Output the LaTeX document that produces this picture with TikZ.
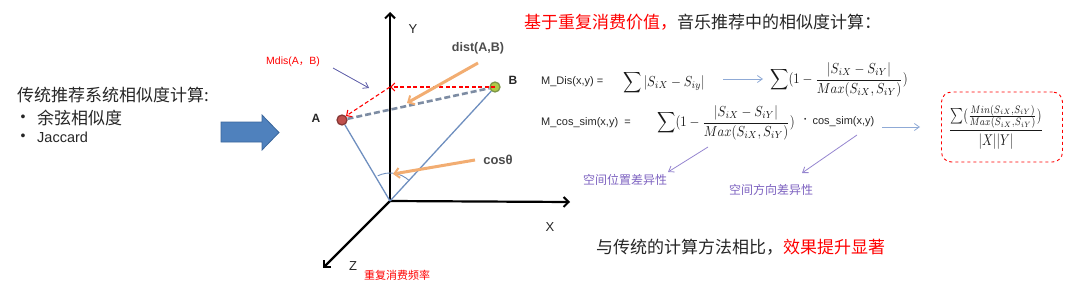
\documentclass[tikz,border=0pt]{standalone}
\usepackage{amsmath}
\usepackage{fontspec}
\setmainfont{Liberation Sans}
\newfontfamily\cjk{Noto Sans CJK SC}
\usetikzlibrary{arrows.meta}
\definecolor{txt}{HTML}{262626}
\definecolor{vecblue}{HTML}{6F8FBF}
\definecolor{abgray}{HTML}{7D8CA3}
\definecolor{orangearr}{HTML}{F2AD72}
\definecolor{purp}{HTML}{7D62C0}
\definecolor{purparr}{HTML}{9585CF}
\definecolor{lblue}{HTML}{8FAAD6}
\definecolor{blockblue}{HTML}{4F81BD}
\definecolor{blockedge}{HTML}{3B679C}
\definecolor{redpt}{HTML}{C0504D}
\definecolor{greenpt}{HTML}{9BBB59}
\newcommand{\fs}[1]{\fontsize{#1}{#1}\selectfont}
\newcommand{\tallmath}[1]{\scalebox{1.27}[1.45]{#1}}
\begin{document}
\begin{tikzpicture}[x=1pt,y=-1pt,
  lbl/.style={inner sep=0pt, text=txt},
  mathlbl/.style={inner sep=0pt, text=black!90},
  axis/.style={line width=2.2pt, black, -{Straight Barb[length=5pt,width=10pt,line width=2pt]}},
  vec/.style={line width=1.3pt, vecblue},
  abline/.style={line width=2.6pt, abgray, dash pattern=on 6pt off 3pt},
  reddash/.style={line width=1.1pt, red, dash pattern=on 4pt off 2.5pt, -{Straight Barb[length=4pt,width=8pt]}},
  orarrow/.style={line width=3pt, orangearr, -{Straight Barb[length=5pt,width=10pt,line width=2pt]}},
  thinarrow/.style={line width=0.8pt, -{Straight Barb[length=5pt,width=7pt]}},
  pt/.style={circle, inner sep=0pt, minimum size=10pt, line width=1.3pt}
]
\useasboundingbox (0,0) rectangle (1080,284);

% left text
\node[lbl, anchor=west, font=\cjk\fs{17}] (t1) at (17,95) {传统推荐系统相似度计算:};
\node[lbl, font=\fs{14}] (b1) at (23,118) {•};
\node[lbl, anchor=west, font=\cjk\fs{17}] (t2) at (37,118) {余弦相似度};
\node[lbl, font=\fs{14}] (b2) at (23,137) {•};
\node[lbl, anchor=west, font=\fs{14.5}] (t3) at (37,137) {Jaccard};

% block arrow
\draw[fill=blockblue, draw=blockedge, line width=0.8pt]
  (221,122) -- (262,122) -- (262,115) -- (279,132.5) -- (262,150) -- (262,142) -- (221,142) -- cycle;

% axes
\coordinate (O) at (390,201);
\coordinate (Ye) at (390,12);
\coordinate (Xe) at (570,202);
\coordinate (Ze) at (323,268);
\draw[axis] (O) -- (Ye);
\draw[axis] (O) -- (Xe);
\draw[axis] (O) -- (Ze);
\node[lbl, font=\fs{13}] (Yl) at (413,29) {Y};
\node[lbl, font=\fs{13}] (Xl) at (550,227) {X};
\node[lbl, font=\fs{13}] (Zl) at (353,266) {Z};
\node[lbl, font=\cjk\fs{11}, text=red] (zlab) at (397,275) {重复消费频率};

% points
\node[pt, fill=redpt, draw=redpt!70!black] (A) at (342,120) {};
\node[pt, fill=greenpt!80!yellow, draw=greenpt!80!black] (B) at (495,87) {};
\node[lbl, font=\bfseries\fs{12}] (Al) at (316,118) {A};
\node[lbl, font=\bfseries\fs{12}] (Bl) at (513,80) {B};

\draw[vec] (O) -- (A);
\draw[vec] (O) -- (B);
\draw[abline] (A) -- (B);
\draw[vecblue, line width=0.9pt] (O) ++(116:28pt) arc[start angle=116, end angle=47, radius=28pt];

\coordinate (P) at (390,87);
\draw[reddash] (B.center) -- (P);
\draw[reddash] (P) -- (A.north east);

\node[lbl, font=\fs{10.5}, text=red] (mdis) at (293,62) {Mdis(A{\cjk，}B)};
\coordinate (mdisT) at (369,88);
\coordinate (mdisS) at (333,68);
\draw[thinarrow, draw=gray!70!blue] (mdisS) -- (mdisT);

\node[lbl, font=\bfseries\fs{12.5}, text=black!70] (dist) at (478,48) {dist(A,B)};
\coordinate (distS) at (478,63);
\coordinate (distT) at (407,103);
\draw[orarrow] (distS) -- (distT);

\node[lbl, font=\bfseries\fs{13}, text=black!70] (cos) at (498,160) {cosθ};
\coordinate (cosS) at (475,160);
\coordinate (cosT) at (393,174);
\draw[orarrow] (cosS) -- (cosT);

% right side
\node[lbl, anchor=west, font=\cjk\fs{17}] (title) at (524,22) {\textcolor{red}{基于重复消费价值，}音乐推荐中的相似度计算：};

\node[lbl, anchor=west, font=\fs{11}] (md) at (541,82) {M\_Dis(x,y) =};
\node[mathlbl, anchor=west] (f1) at (623,83) {\tallmath{$\displaystyle\sum|S_{iX}-S_{iy}|$}};
\node[mathlbl, anchor=west] (f2) at (770,80) {\tallmath{$\displaystyle\sum(1-\frac{|S_{iX}-S_{iY}|}{Max(S_{iX},S_{iY})})$}};
\coordinate (a1s) at (723,79);
\coordinate (a1t) at (763,79);
\draw[thinarrow, draw=lblue] (a1s) -- (a1t);

\node[lbl, anchor=west, font=\fs{11}] (mc) at (541,123) {M\_cos\_sim(x,y)\ \ =};
\node[mathlbl, anchor=west] (f3) at (657,123) {\tallmath{$\displaystyle\sum(1-\frac{|S_{iX}-S_{iY}|}{Max(S_{iX},S_{iY})})$}};
\node[lbl, anchor=west, font=\fs{11}] (cs) at (804,122) {\raisebox{3pt}{\scalebox{0.6}{•}}\ \ cos\_sim(x,y)};

\node[draw=red, dashed, line width=0.9pt, rounded corners=10pt, minimum width=121pt, minimum height=70pt, inner sep=0pt] (box) at (1002,127) {};
\node[mathlbl] (f4) at (996,127) {\scalebox{1.23}[1.55]{$\dfrac{\sum(\frac{Min(S_{iX},S_{iY})}{Max(S_{iX},S_{iY})})}{|X||Y|}$}};
\coordinate (a2s) at (882,127);
\coordinate (a2t) at (920,127);
\draw[thinarrow, draw=lblue] (a2s) -- (a2t);

% purple annotations
\node[lbl, font=\cjk\fs{12}, text=purp] (sp1) at (625,180) {空间位置差异性};
\node[lbl, font=\cjk\fs{12}, text=purp] (sp2) at (771,190) {空间方向差异性};
\coordinate (p1s) at (708,147);
\coordinate (p1t) at (668,172);
\coordinate (p2s) at (857,135);
\coordinate (p2t) at (802,173);
\draw[thinarrow, draw=purparr] (p1s) -- (p1t);
\draw[thinarrow, draw=purparr] (p2s) -- (p2t);

\node[lbl, anchor=west, font=\cjk\fs{17}] (bottom) at (596,247) {与传统的计算方法相比，\textcolor{red}{效果提升显著}};
\end{tikzpicture}
\end{document}
